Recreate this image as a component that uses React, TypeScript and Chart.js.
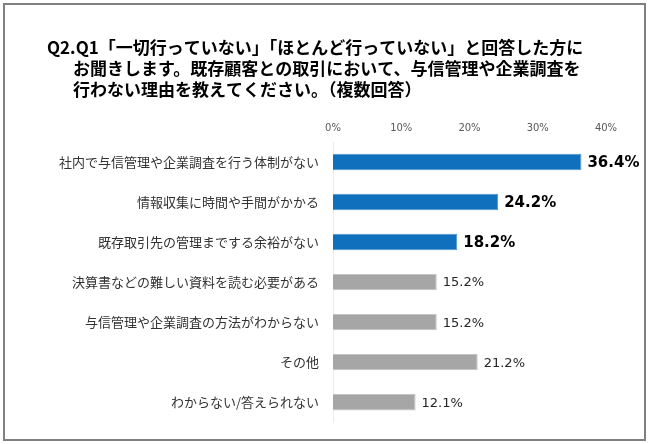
import React, { useEffect, useRef } from "react";
import { Chart, registerables } from "chart.js";

Chart.register(...registerables);

const titleLines = [
  "Q2.Q1「一切行っていない」「ほとんど行っていない」と回答した方に",
  "お聞きします。既存顧客との取引において、与信管理や企業調査を",
  "行わない理由を教えてください。（複数回答）",
];

const categories = [
  "社内で与信管理や企業調査を行う体制がない",
  "情報収集に時間や手間がかかる",
  "既存取引先の管理までする余裕がない",
  "決算書などの難しい資料を読む必要がある",
  "与信管理や企業調査の方法がわからない",
  "その他",
  "わからない/答えられない",
];

const values = [36.4, 24.2, 18.2, 15.2, 15.2, 21.2, 12.1];
const highlighted = [true, true, true, false, false, false, false];
const xTicks = [0, 10, 20, 30, 40];

const BLUE = "#1170BE";
const BLUE_EDGE = "#4D93D2";
const GRAY = "#A6A6A6";
const GRAY_EDGE = "#C4C4C4";

const frameAndTitle = {
  id: "frameAndTitle",
  beforeDraw(chart: any) {
    const ctx = chart.ctx;
    ctx.save();
    ctx.fillStyle = "#ffffff";
    ctx.fillRect(0, 0, chart.width, chart.height);
    ctx.strokeStyle = "#808080";
    ctx.lineWidth = 2;
    ctx.strokeRect(4, 4, 641, 436);
    ctx.fillStyle = "#000000";
    ctx.font = 'bold 17px "Noto Sans CJK JP"';
    ctx.textBaseline = "middle";
    ctx.textAlign = "left";
    const xs = [47, 73, 73];
    const ys = [48, 69, 90];
    titleLines.forEach((t, i) => ctx.fillText(t, xs[i], ys[i]));
    ctx.restore();
  },
};

const valueLabels = {
  id: "valueLabels",
  afterDatasetsDraw(chart: any) {
    const ctx = chart.ctx;
    const meta = chart.getDatasetMeta(0);
    ctx.save();
    ctx.textBaseline = "middle";
    ctx.textAlign = "left";
    meta.data.forEach((bar: any, i: number) => {
      const v = values[i];
      if (highlighted[i]) {
        ctx.font = 'bold 15px "DejaVu Sans"';
        ctx.fillStyle = "#000000";
      } else {
        ctx.font = '13px "DejaVu Sans"';
        ctx.fillStyle = "#262626";
      }
      ctx.fillText(v.toFixed(1) + "%", bar.x + 6, bar.y + 1);
    });
    ctx.restore();
  },
};

export default function App() {
  const ref = useRef<HTMLCanvasElement>(null);
  useEffect(() => {
    document.body.style.margin = "0";
    const chart = new Chart(ref.current!, {
      type: "bar",
      data: {
        labels: categories,
        datasets: [
          {
            data: values,
            backgroundColor: highlighted.map((h) => (h ? BLUE : GRAY)),
            borderColor: highlighted.map((h) => (h ? BLUE_EDGE : GRAY_EDGE)),
            borderWidth: 1,
            categoryPercentage: 1,
            barPercentage: 0.41,
          },
        ],
      },
      options: {
        indexAxis: "y",
        animation: false,
        responsive: false,
        events: [],
        layout: { padding: { top: 112, right: 44, bottom: 20, left: 0 } },
        plugins: {
          legend: { display: false },
          tooltip: { enabled: false },
          title: { display: false },
        },
        scales: {
          x: {
            position: "top",
            min: 0,
            max: 40,
            afterBuildTicks(scale: any) {
              scale.ticks = xTicks.map((v) => ({ value: v }));
            },
            afterFit(scale: any) {
              scale.height = 30;
            },
            grid: { display: false, drawTicks: false },
            border: { display: false },
            ticks: {
              padding: 8,
              color: "#595959",
              font: { family: "DejaVu Sans", size: 10 },
              callback: (v: any) => v + "%",
            },
          },
          y: {
            afterFit(scale: any) {
              scale.width = 333;
            },
            grid: { display: false, drawTicks: false },
            border: { display: true, color: "#ececec", width: 1 },
            ticks: {
              padding: 14,
              color: "#333333",
              font: { family: "Noto Sans CJK JP", size: 13 },
            },
          },
        },
      },
      plugins: [frameAndTitle, valueLabels],
    });
    return () => chart.destroy();
  }, []);
  return <canvas ref={ref} width={650} height={444} style={{ display: "block" }} />;
}
